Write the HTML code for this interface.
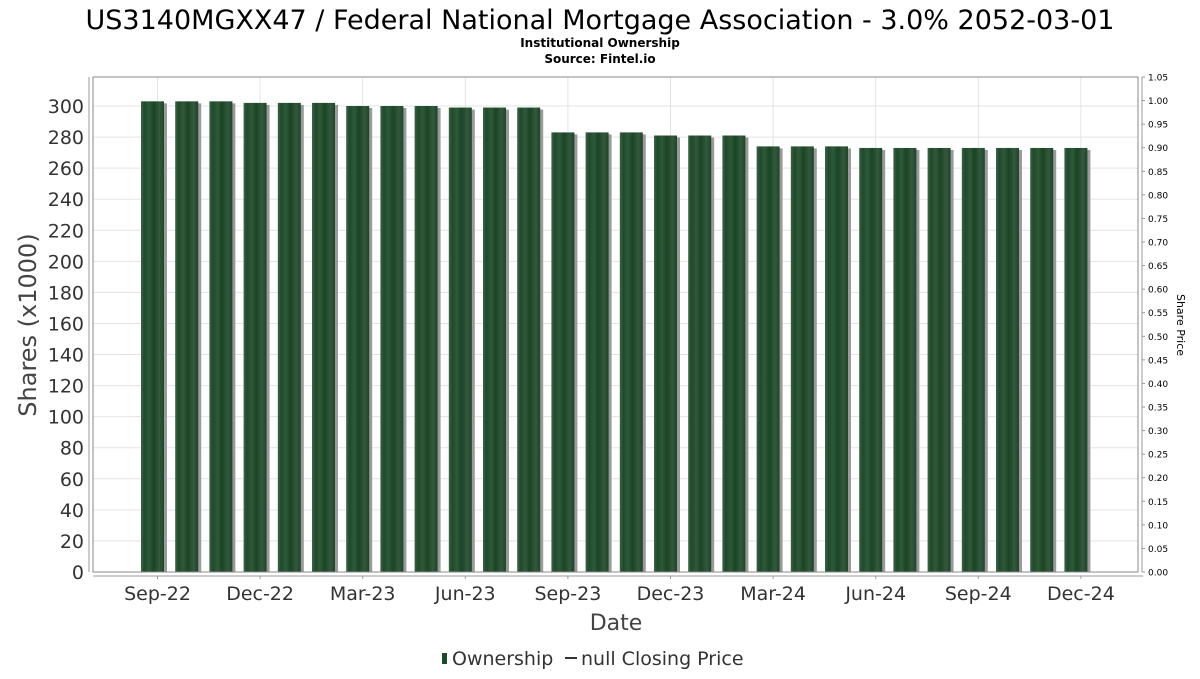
<!DOCTYPE html>
<html><head><meta charset="utf-8"><style>
body{margin:0;background:#fff;font-family:"DejaVu Sans","Liberation Sans",sans-serif;}
svg text{font-family:"DejaVu Sans","Liberation Sans",sans-serif;}
</style></head><body>
<svg id="c" width="1200" height="675" xmlns="http://www.w3.org/2000/svg">
<defs>
<linearGradient id="bg" x1="0" x2="1" y1="0" y2="0">
<stop offset="0" stop-color="#3d6347"/><stop offset="0.15" stop-color="#1f4a2a"/><stop offset="0.35" stop-color="#2f5a39"/><stop offset="0.55" stop-color="#1a4426"/><stop offset="0.8" stop-color="#34593d"/><stop offset="1" stop-color="#1d4628"/>
</linearGradient>
</defs>
<text x="600" y="29" text-anchor="middle" font-size="27" fill="#000">US3140MGXX47 / Federal National Mortgage Association - 3.0% 2052-03-01</text>
<text x="600" y="47" text-anchor="middle" font-size="12" font-weight="bold" fill="#000">Institutional Ownership</text>
<text x="600" y="63" text-anchor="middle" font-size="12" font-weight="bold" fill="#000">Source: Fintel.io</text>
<g id="grid"></g>
<g id="bars"></g>
<rect x="93" y="77" width="1045" height="495" fill="none" stroke="#888"/>
<g id="axes"></g>
<text transform="translate(36,325) rotate(-90)" text-anchor="middle" font-size="24" fill="#444">Shares (x1000)</text>
<text x="616" y="630" text-anchor="middle" font-size="22" fill="#444">Date</text>
<text transform="translate(1177,325) rotate(90)" text-anchor="middle" font-size="11" fill="#000">Share Price</text>
<g>
<rect x="442" y="653" width="5" height="11" fill="#1f4a2a"/>
<text x="452" y="665" font-size="19" fill="#333">Ownership</text>
<line x1="565" y1="658" x2="577" y2="658" stroke="#333" stroke-width="2"/>
<text x="581" y="665" font-size="19" fill="#333">null Closing Price</text>
</g>
</svg>
<script>
const values=[303,303,303,302,302,302,300,300,300,299,299,299,283,283,283,281,281,281,274,274,274,273,273,273,273,273,273,273];
const xLabels=["Sep-22","Dec-22","Mar-23","Jun-23","Sep-23","Dec-23","Mar-24","Jun-24","Sep-24","Dec-24"];
const yTicks=[0,20,40,60,80,100,120,140,160,180,200,220,240,260,280,300];
const y2Ticks=[0,0.05,0.1,0.15,0.2,0.25,0.3,0.35,0.4,0.45,0.5,0.55,0.6,0.65,0.7,0.75,0.8,0.85,0.9,0.95,1.0,1.05];
const NS="http://www.w3.org/2000/svg";
const y=v=>572-v*(466/300);
const y2=v=>572-v*(495/1.05);
const bx=i=>141+i*34.2;
const BW=23;
function mk(t,a,p){const e=document.createElementNS(NS,t);for(const k in a)e.setAttribute(k,a[k]);p.appendChild(e);return e;}
const grid=document.getElementById('grid'),bars=document.getElementById('bars'),axes=document.getElementById('axes');
yTicks.forEach(v=>{
  const l=mk('line',{x1:93,x2:1138,y1:y(v),y2:y(v),stroke:'#e3e3e3'},grid);
  
  
  const t=mk('text',{x:84,y:y(v)+7,'text-anchor':'end','font-size':19,fill:'#333'},axes);
  t.textContent=v;
  
  
});
xLabels.forEach((s,k)=>{
  const x=bx(k*3)+BW/2+5;
  const l=mk('line',{x1:x,x2:x,y1:77,y2:572,stroke:'#e3e3e3'},grid);
  
  
  mk('line',{x1:x,x2:x,y1:576,y2:579,stroke:'#999'},axes);
  const t=mk('text',{x:x,y:600,'text-anchor':'middle','font-size':19,fill:'#333'},axes);
  t.textContent=s;
  
  
});
mk('line',{x1:93,x2:1143,y1:576,y2:576,stroke:'#999'},axes);
mk('line',{x1:89,x2:89,y1:77,y2:572,stroke:'#999'},axes);
mk('line',{x1:1142,x2:1142,y1:77,y2:572,stroke:'#999'},axes);
y2Ticks.forEach(v=>{
  mk('line',{x1:1142,x2:1145,y1:y2(v),y2:y2(v),stroke:'#999'},axes);
  const t=mk('text',{x:1148,y:y2(v)+3.5,'font-size':9,fill:'#000'},axes);
  t.textContent=v.toFixed(2);
  
  
});
values.forEach((v,i)=>{
  const s=mk('rect',{x:bx(i)+3,y:y(v)+2,width:BW,height:572-y(v)-2,fill:'#9a9a9a'},bars);
  
  
  const r=mk('rect',{x:bx(i),y:y(v),width:BW,height:572-y(v),fill:'url(#bg)'},bars);
  
  
});
</script>
</body></html>
